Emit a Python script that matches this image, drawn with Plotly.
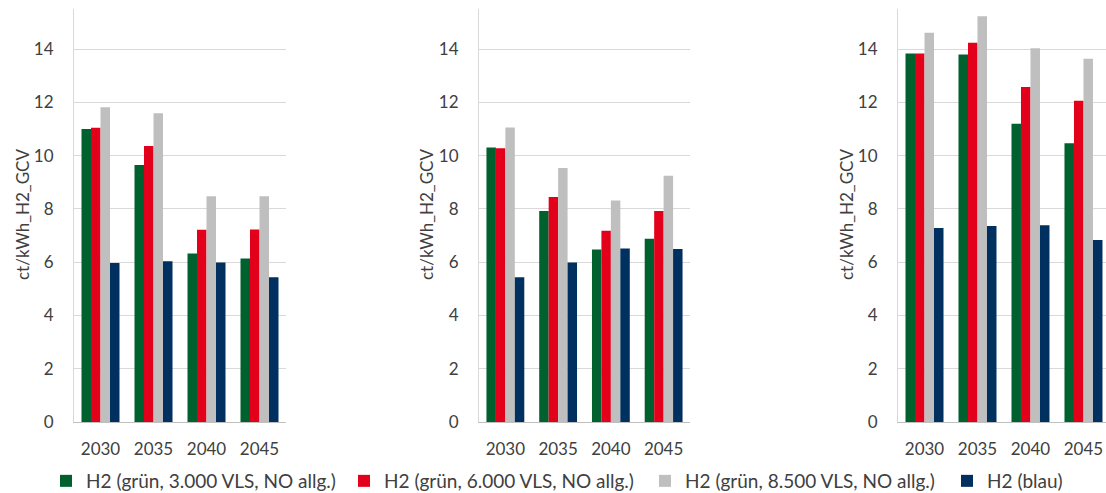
import plotly.graph_objects as go

# ---------------- data ----------------
years = ["2030", "2035", "2040", "2045"]

series_names = [
    "H2 (grün, 3.000 VLS, NO allg.)",
    "H2 (grün, 6.000 VLS, NO allg.)",
    "H2 (grün, 8.500 VLS, NO allg.)",
    "H2 (blau)",
]
series_colors = ["#00612F", "#E3001B", "#BFBFBF", "#003060"]

# panel 1
p1_gruen_3000 = [11.00, 9.65, 6.33, 6.14]
p1_gruen_6000 = [11.05, 10.37, 7.22, 7.23]
p1_gruen_8500 = [11.82, 11.60, 8.48, 8.48]
p1_blau = [5.97, 6.04, 5.99, 5.44]

# panel 2
p2_gruen_3000 = [10.31, 7.92, 6.48, 6.88]
p2_gruen_6000 = [10.28, 8.45, 7.18, 7.92]
p2_gruen_8500 = [11.06, 9.54, 8.32, 9.25]
p2_blau = [5.44, 5.99, 6.52, 6.50]

# panel 3
p3_gruen_3000 = [13.84, 13.80, 11.20, 10.47]
p3_gruen_6000 = [13.84, 14.24, 12.58, 12.07]
p3_gruen_8500 = [14.62, 15.24, 14.04, 13.64]
p3_blau = [7.29, 7.36, 7.39, 6.84]

y_title = "ct/kWh_H2_GCV"
y_ticks = [0, 2, 4, 6, 8, 10, 12, 14]

panels = [
    [p1_gruen_3000, p1_gruen_6000, p1_gruen_8500, p1_blau],
    [p2_gruen_3000, p2_gruen_6000, p2_gruen_8500, p2_blau],
    [p3_gruen_3000, p3_gruen_6000, p3_gruen_8500, p3_blau],
]

# ---------------- layout helpers ----------------
W, H = 1106, 493
FONT = "Lato"
TXT = "#404040"

def px_x(p):
    return p / W

def px_y(p):  # from top
    return 1 - p / H

# plot area pixel extents (left, right)
x_domains = [(74, 286), (479, 690), (898, 1106)]
x_ranges = [[-0.5, 3.5], [-0.5, 3.5], [-0.5, 3.425]]
y_top, y_bottom = 9.3, 422

fig = go.Figure()

legend_keys = ["legend", "legend2", "legend3", "legend4"]

for pi, panel in enumerate(panels):
    ax = "" if pi == 0 else str(pi + 1)
    for si, vals in enumerate(panel):
        fig.add_trace(go.Bar(
            x=years, y=vals, name=series_names[si],
            marker=dict(color=series_colors[si], line=dict(width=0)),
            xaxis="x" + ax, yaxis="y" + ax,
            showlegend=(pi == 0),
            legend=legend_keys[si],
            legendgroup=series_names[si],
        ))

layout = dict(
    width=W, height=H,
    margin=dict(l=0, r=0, t=0, b=0, autoexpand=False),
    paper_bgcolor="white", plot_bgcolor="white",
    barmode="group", bargap=0.283, bargroupgap=0,
    font=dict(family=FONT, size=17, color=TXT),
)

for pi in range(3):
    ax = "" if pi == 0 else str(pi + 1)
    l, r = x_domains[pi]
    layout["xaxis" + ax] = dict(
        domain=[px_x(l), px_x(r)], range=x_ranges[pi], type="category",
        anchor="y" + ax, showline=True, linecolor="#BFBFBF", linewidth=1,
        showgrid=False, ticks="", ticklabelstandoff=12, automargin=False,
        tickfont=dict(family=FONT, size=17, color=TXT),
    )
    layout["yaxis" + ax] = dict(
        domain=[px_y(y_bottom), px_y(y_top)], range=[0, 15.5],
        anchor="x" + ax, tickvals=y_ticks, showline=True,
        linecolor="#D9D9D9", linewidth=1, gridcolor="#D9D9D9", gridwidth=1,
        zeroline=False, ticks="", ticklabelstandoff=16, automargin=False,
        tickfont=dict(family=FONT, size=17, color=TXT),
    )

# y-axis titles
annotations = []
for cx in [22, 426, 846]:
    annotations.append(dict(
        text=y_title, xref="paper", yref="paper",
        x=px_x(cx), y=px_y(215), xanchor="center", yanchor="middle",
        textangle=-90, showarrow=False,
        font=dict(family=FONT, size=17, color=TXT),
    ))
layout["annotations"] = annotations

# one legend per series, positioned like the reference
legend_x = [46, 344, 645, 947]
for key, lx in zip(legend_keys, legend_x):
    layout[key] = dict(
        x=px_x(lx), y=px_y(481), xanchor="left", yanchor="middle",
        orientation="h", bgcolor="rgba(0,0,0,0)", borderwidth=0,
        itemwidth=30, font=dict(family=FONT, size=19, color=TXT),
    )

fig.update_layout(**layout)
fig.write_html(
    "out.html",
    config={"displayModeBar": False},
    post_script="document.body.style.margin='0px';document.body.style.padding='0px';",
)
